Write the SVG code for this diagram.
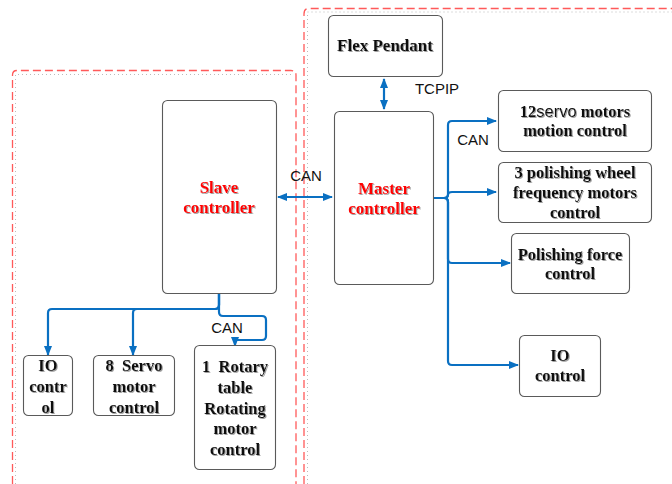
<svg xmlns="http://www.w3.org/2000/svg" width="672" height="484" viewBox="0 0 672 484">
<style>
.frame{fill:none;stroke:#ff5a5a;stroke-width:1.3;stroke-dasharray:8,4}
.inner{fill:none;stroke:#bbbbbb;stroke-width:1;stroke-dasharray:1,3}
.box{fill:#ffffff;stroke:#5a5a5a;stroke-width:1.1}
.t{font-family:"Liberation Serif","Times New Roman",serif;font-weight:bold;font-size:16.5px;fill:#111;text-anchor:middle}
.red{fill:#ff0000;font-size:17px}
.s{font-family:"Liberation Sans",Arial,sans-serif;font-weight:normal}
.lbl{font-family:"Liberation Sans",Arial,sans-serif;font-size:15px;fill:#111}
.c{fill:none;stroke:#0a70c2;stroke-width:2.2}
</style>
<defs>
<marker id="ah" markerWidth="10" markerHeight="8" refX="9" refY="4" orient="auto-start-reverse" markerUnits="userSpaceOnUse">
<path d="M0,0 L10,4 L0,8 z" fill="#0a70c2"/>
</marker>
<filter id="sh" x="-10%" y="-10%" width="120%" height="130%">
<feDropShadow dx="1" dy="1" stdDeviation="0.6" flood-color="#888" flood-opacity="0.8"/>
</filter>
</defs>
<rect width="672" height="484" fill="#ffffff"/>
<g id="frames">
<path class="frame" d="M12.5,484 V75 Q12.5,70.5 17,70.5 H291 Q296,70.5 296,75 V484"/>
<path class="inner" d="M15.5,484 V74.5 H292"/>
<path class="frame" d="M304,484 V14 Q304,8.5 309,8.5 H672"/>
<path class="inner" d="M307.5,484 V12 H672"/>
</g>
<g id="connectors">
<path class="c" d="M278,197 H332" marker-start="url(#ah)" marker-end="url(#ah)"/>
<path class="c" d="M384,79 V109" marker-start="url(#ah)" marker-end="url(#ah)"/>
<path class="c" d="M433,198 H444 Q448,198 448,194 V125 Q448,121 452,121 H496" marker-end="url(#ah)"/>
<path class="c" d="M433,198 H444 Q448,198 448,195 Q448,192 452,192 H496" marker-end="url(#ah)"/>
<path class="c" d="M433,198 H444 Q448,198 448,202 V259 Q448,263 452,263 H510" marker-end="url(#ah)"/>
<path class="c" d="M433,198 H444 Q448,198 448,202 V361 Q448,365 452,365 H518" marker-end="url(#ah)"/>
<path class="c" d="M219,294 V305 Q219,309 215,309 H52 Q48,309 48,313 V355" marker-end="url(#ah)"/>
<path class="c" d="M219,294 V305 Q219,309 215,309 H137 Q133,309 133,313 V355" marker-end="url(#ah)"/>
<path class="c" d="M219,294 V312 Q219,316 223,316 H262 Q266,316 266,320 V336 Q266,340 262,340 H235 V346" marker-end="url(#ah)"/>
<text class="lbl" x="306" y="181" text-anchor="middle">CAN</text>
<text class="lbl" x="437" y="94" text-anchor="middle">TCPIP</text>
<text class="lbl" x="473" y="145" text-anchor="middle">CAN</text>
<text class="lbl" x="227" y="333" text-anchor="middle">CAN</text>
</g>
<g id="flex-pendant">
<rect class="box" x="328.5" y="15.5" width="114" height="61" rx="5"/>
<text class="t" x="385" y="51" filter="url(#sh)" style="font-size:17px">Flex Pendant</text>
</g>
<g id="master-controller">
<rect class="box" x="334.5" y="111.5" width="99" height="173" rx="5"/>
<text class="t red" x="384" y="194" filter="url(#sh)">Master</text>
<text class="t red" x="384" y="214" filter="url(#sh)">controller</text>
</g>
<g id="slave-controller">
<rect class="box" x="162.5" y="100.5" width="114" height="193" rx="5"/>
<text class="t red" x="219" y="193" filter="url(#sh)">Slave</text>
<text class="t red" x="219" y="213" filter="url(#sh)">controller</text>
</g>
<g id="servo12">
<rect class="box" x="498.5" y="90.5" width="153" height="61" rx="5"/>
<text class="t" x="575" y="117" filter="url(#sh)">12<tspan class="s">servo</tspan> motors</text>
<text class="t" x="575" y="136" filter="url(#sh)">motion control</text>
</g>
<g id="polishing-wheel">
<rect class="box" x="498.5" y="162.5" width="153" height="60" rx="5"/>
<text class="t" x="575" y="178" filter="url(#sh)">3 polishing wheel</text>
<text class="t" x="575" y="198" filter="url(#sh)">frequency motors</text>
<text class="t" x="575" y="218" filter="url(#sh)">control</text>
</g>
<g id="polishing-force">
<rect class="box" x="511.5" y="233.5" width="118" height="60" rx="5"/>
<text class="t" x="570" y="260" filter="url(#sh)">Polishing force</text>
<text class="t" x="570" y="279" filter="url(#sh)">control</text>
</g>
<g id="io-right">
<rect class="box" x="519.5" y="335.5" width="81" height="61" rx="5"/>
<text class="t" x="560" y="361" filter="url(#sh)">IO</text>
<text class="t" x="560" y="381" filter="url(#sh)">control</text>
</g>
<g id="io-left">
<rect class="box" x="23.5" y="355.5" width="49" height="60" rx="5"/>
<text class="t" x="48" y="371" filter="url(#sh)">IO</text>
<text class="t" x="48" y="392" filter="url(#sh)">contr</text>
<text class="t" x="48" y="413" filter="url(#sh)">ol</text>
</g>
<g id="servo8">
<rect class="box" x="93.5" y="355.5" width="81" height="60" rx="5"/>
<text class="t" x="134" y="371" filter="url(#sh)" xml:space="preserve">8  Servo</text>
<text class="t" x="134" y="392" filter="url(#sh)">motor</text>
<text class="t" x="134" y="413" filter="url(#sh)">control</text>
</g>
<g id="rotary">
<rect class="box" x="194.5" y="345.5" width="81" height="124" rx="5"/>
<text class="t" x="235" y="372" filter="url(#sh)" xml:space="preserve">1  Rotary</text>
<text class="t" x="235" y="393" filter="url(#sh)">table</text>
<text class="t" x="235" y="414" filter="url(#sh)">Rotating</text>
<text class="t" x="235" y="434" filter="url(#sh)">motor</text>
<text class="t" x="235" y="455" filter="url(#sh)">control</text>
</g>
</svg>
